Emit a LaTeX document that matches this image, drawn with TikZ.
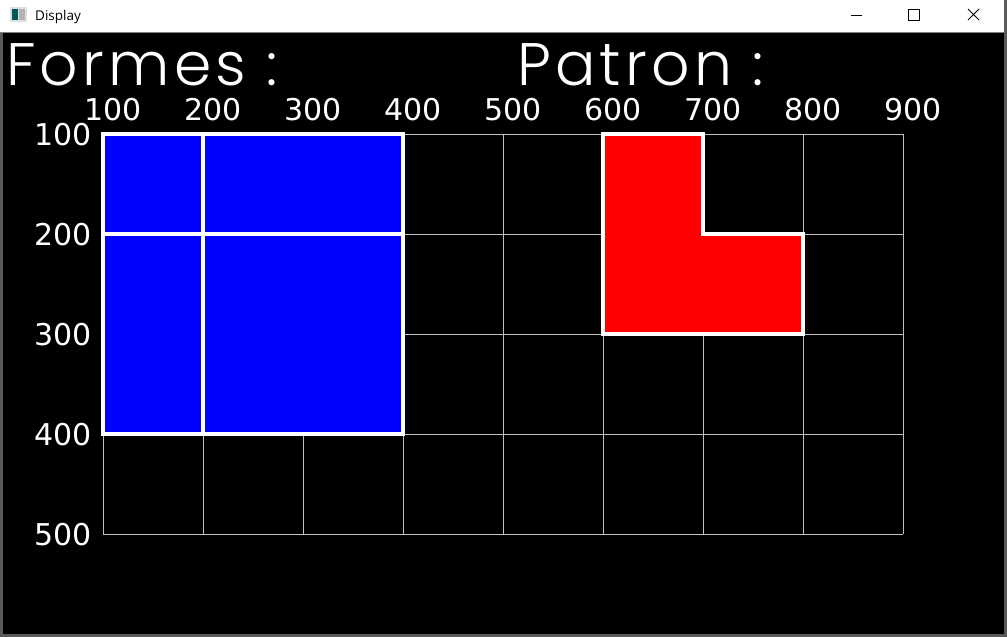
\documentclass[tikz,border=0pt]{standalone}
\usepackage{fontspec}
\newfontfamily\chiffres{DejaVu Sans}
\newfontfamily\titre{Poppins}[UprightFont=* Light, LetterSpace=7]
\newfontfamily\fenetre{Open Sans}
\usetikzlibrary{positioning}
\definecolor{bleuforme}{RGB}{0,0,255}
\definecolor{rougepatron}{RGB}{255,0,0}
\definecolor{grisgrille}{RGB}{192,192,192}
\definecolor{grisbord}{RGB}{90,90,90}
\tikzset{
  grille/.style={draw=grisgrille, line width=1pt},
  forme/.style={fill=bleuforme, draw=white, line width=4.5pt},
  patron/.style={fill=rougepatron, draw=white, line width=4.5pt},
  chiffre/.style={text=white, inner sep=0pt, text depth=0pt, font=\chiffres\fontsize{30}{30}\selectfont},
  titre/.style={text=white, inner sep=0pt, text depth=0pt, font=\titre\fontsize{60}{60}\selectfont},
  bouton/.style={draw=black, line width=1pt}
}

\begin{document}
\begin{tikzpicture}[x=1pt, y=-1pt]
\useasboundingbox (0,0) rectangle (1007,637);
% Fenêtre "Display" : barre de titre et zone noire
\fill[grisbord] (0,0) rectangle (1007,637);
\fill[white] (0,0) rectangle (1004,32);
\draw[gray, line width=1pt] (0,32.5) -- (1004,32.5);
\fill[black] (3,33) rectangle (1004,634);

\fill[gray!25] (10,7) rectangle (27,22);
\fill[teal!70!black] (12,9) rectangle (18,20);
\fill[gray!60] (19,9) rectangle (25,20);
\node[anchor=base west, inner sep=0pt, font=\fenetre\fontsize{13.5}{13.5}\selectfont] (nomfenetre) at (35,20) {Display};
\draw[bouton] (851,15.5) -- (862,15.5);
\draw[bouton] (908.5,9.5) rectangle (919.5,20.5);
\draw[bouton] (968,9) -- (979,20) (968,20) -- (979,9);

\begin{scope}[shift={(3,34)}]
\foreach \x in {100,200,...,900}
  \draw[grille] (\x,100) -- (\x,500);
\foreach \y in {100,200,...,500}
  \draw[grille] (100,\y) -- (900,\y);

% Formes (bleu) et patron (rouge)
\draw[forme] (100,100) rectangle (200,200);
\draw[forme] (200,100) rectangle (400,200);
\draw[forme] (100,200) rectangle (200,400);
\draw[forme] (200,200) rectangle (400,400);
\draw[patron] (600,100) -- (700,100) -- (700,200) -- (800,200) -- (800,300) -- (600,300) -- cycle;

% Graduations
\foreach \v in {100,200,...,900}
  \node[chiffre, anchor=base] (haut\v) at (\v+10,86) {\v};
\foreach \v in {100,200,...,500}
  \node[chiffre, anchor=base east] (gauche\v) at (89,\v+11) {\v};

\node[titre, anchor=base west] (formes) at (3,51) {Formes :};
\node[titre, anchor=base west] (patron) at (514,51) {Patron :};
\end{scope}
\end{tikzpicture}
\end{document}
